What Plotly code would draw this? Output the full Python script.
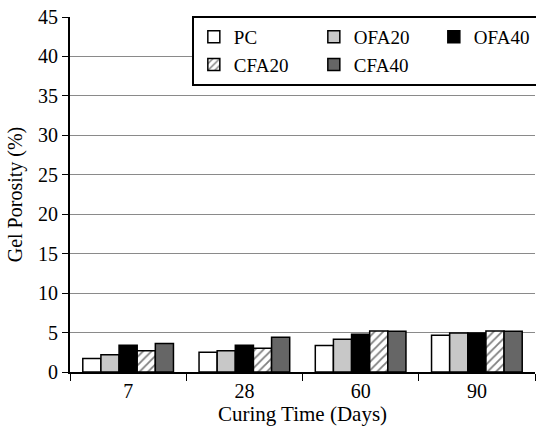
import plotly.graph_objects as go

categories = ["7", "28", "60", "90"]
series_names = ["PC", "OFA20", "OFA40", "CFA20", "CFA40"]
pc = [1.7, 2.5, 3.35, 4.65]
ofa20 = [2.2, 2.7, 4.15, 4.95]
ofa40 = [3.4, 3.4, 4.8, 4.95]
cfa20 = [2.7, 3.0, 5.2, 5.2]
cfa40 = [3.6, 4.4, 5.15, 5.15]
y_ticks = [0, 5, 10, 15, 20, 25, 30, 35, 40, 45]

values = [pc, ofa20, ofa40, cfa20, cfa40]
colors = ["white", "#c8c8c8", "black", "white", "#666666"]

fig = go.Figure()
for name, vals, col in zip(series_names, values, colors):
    marker = dict(color=col, line=dict(color="black", width=1.5))
    if name == "CFA20":
        marker["pattern"] = dict(shape="/", fgcolor="black", bgcolor="white", size=6, solidity=0.3)
    fig.add_trace(go.Bar(x=categories, y=vals, name=name, marker=marker))

font = "Liberation Serif, Times New Roman, serif"
fig.update_layout(
    width=536, height=428,
    margin=dict(l=70, r=1, t=17, b=56, autoexpand=False),
    paper_bgcolor="white", plot_bgcolor="white",
    barmode="group", bargap=0.22, bargroupgap=0,
    font=dict(family=font, size=20, color="black"),
    showlegend=True,
    legend=dict(
        orientation="h", x=0.262, xanchor="left", y=1.003, yanchor="top",
        entrywidth=75, entrywidthmode="pixels",
        bgcolor="white", bordercolor="black", borderwidth=2,
        font=dict(family=font, size=19), traceorder="normal",
        itemwidth=30, tracegroupgap=0,
    ),
    xaxis=dict(
        type="category", tickson="boundaries", ticks="outside", ticklen=7,
        tickcolor="black", showline=True, linecolor="black", linewidth=1.5,
        title=dict(text="Curing Time (Days)", standoff=0, font=dict(size=21)),
        showgrid=False,
    ),
    yaxis=dict(
        range=[0, 45], tickvals=y_ticks, ticks="outside", ticklen=6,
        tickcolor="black", showline=True, linecolor="black", linewidth=2,
        showgrid=True, gridcolor="#8a8a8a", gridwidth=1,
        title=dict(text="Gel Porosity (%)", standoff=10, font=dict(size=20)),
        zeroline=False,
    ),
)
fig.write_html("out.html", post_script="document.body.style.margin='0';",
               config={"displayModeBar": False})
